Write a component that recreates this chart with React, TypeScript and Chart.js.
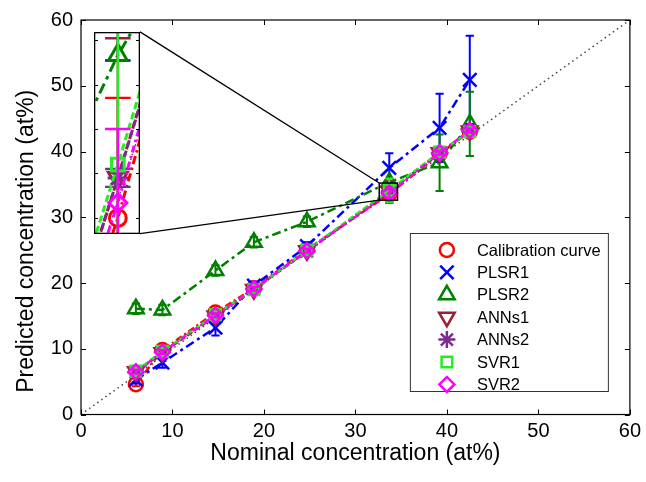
import React, { useEffect, useRef } from "react";
import { Chart, registerables } from "chart.js";
import { drawPoint } from "chart.js/helpers";
Chart.register(...registerables);

// ---------- data ----------
const nominal = [6.0, 8.9, 14.7, 18.9, 24.7, 33.7, 39.2, 42.5];
const calibration = [4.6, 9.8, 15.5, 19.2, 25.1, 33.5, 39.7, 43.0];
const calibrationErr = [0.3, 0.3, 0.3, 0.3, 0.3, 1.35, 0.3, 0.3];
const plsr1 = [5.3, 7.9, 13.2, 19.6, 25.6, 37.5, 43.6, 50.9];
const plsr1Err = [0.6, 0.8, 1.2, 0.6, 0.6, 2.23, 5.2, 6.7];
const plsr2 = [16.1, 15.9, 21.9, 26.2, 29.3, 35.33, 38.3, 44.2];
const plsr2Err = [0.8, 0.8, 0.8, 0.8, 0.8, 0, 4.3, 4.9];
const anns1 = [6.5, 9.4, 15.0, 19.0, 24.9, 33.95, 39.8, 43.1];
const anns1Err = [0.3, 0.3, 0.3, 0.3, 0.3, 1.57, 0.3, 0.3];
const anns2 = [6.4, 9.5, 15.1, 19.1, 24.8, 33.95, 39.7, 43.2];
const anns2Err = [0.3, 0.3, 0.3, 0.3, 0.3, 0.1, 0.3, 0.3];
const svr1 = [6.6, 9.6, 15.2, 19.0, 25.0, 34.1, 39.9, 43.0];
const svr1Err = [0.5, 0.5, 0.5, 0.5, 0.5, 1.8, 0.5, 0.5];
const svr2 = [6.5, 9.5, 15.1, 19.1, 24.9, 33.67, 39.8, 43.2];
const svr2Err = [0.3, 0.3, 0.3, 0.3, 0.3, 0.83, 0.3, 0.3];

const seriesNames = ["Calibration curve", "PLSR1", "PLSR2", "ANNs1", "ANNs2", "SVR1", "SVR2"];
const seriesValues = [calibration, plsr1, plsr2, anns1, anns2, svr1, svr2];
const seriesErrors = [calibrationErr, plsr1Err, plsr2Err, anns1Err, anns2Err, svr1Err, svr2Err];

const axisRange = [0, 60];
const tickStep = 10;
const identityLine = [0, 60];
const errorCapHalf = 0.45; // data units of x
const zoomBox = [32.6, 34.6, 32.6, 35.2]; // x0, x1, y0, y1 (data)
const insetXRange = [32.86, 34.48];
const insetYRange = [33.32, 35.59];
const insetPlace = [1.45, 6.45, 27.5, 58.2]; // x0, x1, y0, y1 (main data coords)
const insetTickStep = 0.5;

const xTitle = "Nominal concentration (at%)";
const yTitle = "Predicted concentration (at%)";

// ---------- styles ----------
const styles = [
  { color: "#ff0000", pointStyle: "circle", radius: 7, rotation: 0, dash: [7, 3, 2, 3] },
  { color: "#0000ff", pointStyle: "crossRot", radius: 9.5, rotation: 0, dash: [9, 4, 3, 4] },
  { color: "#008000", pointStyle: "triangle", radius: 9, rotation: 0, dash: [9, 4, 3, 4] },
  { color: "#a11d33", pointStyle: "triangle", radius: 9, rotation: 180, dash: [6, 3] },
  { color: "#7b2c8f", pointStyle: "star", radius: 8.5, rotation: 0, dash: [6, 3] },
  { color: "#22ee22", pointStyle: "rect", radius: 7.5, rotation: 0, dash: [6, 3] },
  { color: "#ff00ff", pointStyle: "rectRot", radius: 7.5, rotation: 0, dash: [6, 3, 2, 3] },
];

const FONT = "'Liberation Sans', Arial, Helvetica, sans-serif";
const W = 646;
const H = 482;

function makeDatasets(k: number): any[] {
  const ds: any[] = seriesNames.map((name, s) => ({
    label: name,
    data: nominal.map((x, i) => ({ x, y: seriesValues[s][i] })),
    errors: seriesErrors[s],
    errWidth: 2 * k,
    borderColor: styles[s].color,
    backgroundColor: "rgba(0,0,0,0)",
    borderWidth: 2.5 * k,
    borderDash: styles[s].dash.map((d) => d * k),
    pointStyle: styles[s].pointStyle,
    pointRadius: styles[s].radius * k,
    pointRotation: styles[s].rotation,
    pointBorderColor: styles[s].color,
    pointBackgroundColor: "rgba(0,0,0,0)",
    pointBorderWidth: 2.5 * k,
    tension: 0,
    order: seriesNames.length - s,
  }));
  ds.push({
    label: "",
    isRef: true,
    data: [
      { x: identityLine[0], y: identityLine[0] },
      { x: identityLine[1], y: identityLine[1] },
    ],
    borderColor: "#444",
    borderWidth: 1.5,
    borderDash: [1.5, 3.5],
    pointRadius: 0,
    order: 100,
  });
  return ds;
}

const errorBarPlugin = {
  id: "errorBars",
  beforeDatasetDraw(chart: any, args: any) {
    const ds = chart.data.datasets[args.index];
    if (!ds.errors) return;
    const xs = chart.scales.x;
    const ys = chart.scales.y;
    const ctx = chart.ctx;
    const a = chart.chartArea;
    ctx.save();
    ctx.beginPath();
    ctx.rect(a.left, a.top, a.right - a.left, a.bottom - a.top);
    ctx.clip();
    ctx.strokeStyle = ds.borderColor;
    ctx.lineWidth = ds.errWidth;
    ctx.setLineDash([]);
    args.meta.data.forEach((pt: any, i: number) => {
      const e = ds.errors[i];
      if (!e) return;
      const v = ds.data[i].y;
      const xv = ds.data[i].x;
      const t = ys.getPixelForValue(v + e);
      const b = ys.getPixelForValue(v - e);
      const x = pt.x;
      const cl = xs.getPixelForValue(xv - errorCapHalf);
      const cr = xs.getPixelForValue(xv + errorCapHalf);
      ctx.beginPath();
      ctx.moveTo(x, t);
      ctx.lineTo(x, b);
      ctx.moveTo(cl, t);
      ctx.lineTo(cr, t);
      ctx.moveTo(cl, b);
      ctx.lineTo(cr, b);
      ctx.stroke();
    });
    ctx.restore();
  },
};

const mainDecorPlugin = {
  id: "mainDecor",
  afterDatasetsDraw(chart: any) {
    const ctx = chart.ctx;
    const a = chart.chartArea;
    const xs = chart.scales.x;
    const ys = chart.scales.y;
    ctx.save();
    ctx.setLineDash([]);
    // frame
    ctx.strokeStyle = "#000";
    ctx.lineWidth = 1.2;
    ctx.strokeRect(a.left, a.top, a.right - a.left, a.bottom - a.top);
    // inward ticks
    const tl = 5;
    ctx.beginPath();
    xs.ticks.forEach((t: any) => {
      const px = Math.round(xs.getPixelForValue(t.value)) + 0.5;
      ctx.moveTo(px, a.bottom);
      ctx.lineTo(px, a.bottom - tl);
      ctx.moveTo(px, a.top);
      ctx.lineTo(px, a.top + tl);
    });
    ys.ticks.forEach((t: any) => {
      const py = Math.round(ys.getPixelForValue(t.value)) + 0.5;
      ctx.moveTo(a.left, py);
      ctx.lineTo(a.left + tl, py);
      ctx.moveTo(a.right, py);
      ctx.lineTo(a.right - tl, py);
    });
    ctx.lineWidth = 1;
    ctx.stroke();

    // y title (drawn manually, slightly below centre as in the reference)
    ctx.save();
    ctx.translate(27, (a.top + a.bottom) / 2 + 24);
    ctx.rotate(-Math.PI / 2);
    ctx.font = `23px ${FONT}`;
    ctx.fillStyle = "#000";
    ctx.textAlign = "center";
    ctx.textBaseline = "middle";
    ctx.fillText(yTitle, 0, 0);
    ctx.restore();

    // zoom box
    const bx0 = xs.getPixelForValue(zoomBox[0]);
    const bx1 = xs.getPixelForValue(zoomBox[1]);
    const by0 = ys.getPixelForValue(zoomBox[2]);
    const by1 = ys.getPixelForValue(zoomBox[3]);
    ctx.lineWidth = 1.5;
    ctx.strokeStyle = "#000";
    ctx.strokeRect(bx0, by1, bx1 - bx0, by0 - by1);
    // connectors
    const ix1 = xs.getPixelForValue(insetPlace[1]);
    const iy0 = ys.getPixelForValue(insetPlace[2]);
    const iy1 = ys.getPixelForValue(insetPlace[3]);
    ctx.beginPath();
    ctx.moveTo(ix1, iy1);
    ctx.lineTo(bx0, by1);
    ctx.moveTo(ix1, iy0);
    ctx.lineTo(bx0, by0);
    ctx.lineWidth = 1.3;
    ctx.stroke();

    // legend
    const lw = 198;
    const lh = 158;
    const lx = a.right - 22 - lw;
    const ly = a.bottom - 23.5 - lh;
    ctx.fillStyle = "#fff";
    ctx.fillRect(lx, ly, lw, lh);
    ctx.strokeStyle = "#333";
    ctx.lineWidth = 1;
    ctx.strokeRect(lx + 0.5, ly + 0.5, lw, lh);
    const items = chart.data.datasets.filter((d: any) => !d.isRef);
    ctx.font = `16.5px ${FONT}`;
    ctx.textBaseline = "middle";
    ctx.textAlign = "left";
    items.forEach((d: any, i: number) => {
      const cy = ly + 17 + i * 22.4;
      ctx.save();
      ctx.strokeStyle = d.pointBorderColor;
      ctx.fillStyle = "rgba(0,0,0,0)";
      ctx.lineWidth = 2.5;
      drawPoint(ctx, { pointStyle: d.pointStyle, rotation: d.pointRotation, radius: d.pointRadius, borderWidth: 2.5 } as any, lx + 37, cy);
      ctx.restore();
      ctx.fillStyle = "#000";
      ctx.fillText(d.label, lx + 67, cy + 1);
    });
    ctx.restore();
  },
};

const insetDecorPlugin = {
  id: "insetDecor",
  afterDraw(chart: any) {
    const ctx = chart.ctx;
    const a = chart.chartArea;
    const ys = chart.scales.y;
    ctx.save();
    ctx.setLineDash([]);
    ctx.strokeStyle = "#000";
    ctx.lineWidth = 1.3;
    ctx.strokeRect(a.left + 0.65, a.top + 0.65, a.right - a.left - 1.3, a.bottom - a.top - 1.3);
    ctx.beginPath();
    const start = Math.ceil(insetYRange[0] / insetTickStep) * insetTickStep;
    for (let v = start; v < insetYRange[1]; v += insetTickStep) {
      const py = Math.round(ys.getPixelForValue(v)) + 0.5;
      ctx.moveTo(a.left, py);
      ctx.lineTo(a.left + 4, py);
      ctx.moveTo(a.right, py);
      ctx.lineTo(a.right - 4, py);
    }
    ctx.lineWidth = 1;
    ctx.stroke();
    ctx.restore();
  },
};

export default function App() {
  const mainRef = useRef<HTMLCanvasElement>(null);
  const insetRef = useRef<HTMLCanvasElement>(null);
  const insetBoxRef = useRef<HTMLDivElement>(null);

  useEffect(() => {
    document.body.style.margin = "0";
    const main = new Chart(mainRef.current!, {
      type: "line",
      data: { datasets: makeDatasets(1) },
      options: {
        animation: false,
        responsive: false,
        devicePixelRatio: 1,
        layout: { autoPadding: false, padding: { top: 18, right: 15, left: 0, bottom: 0 } },
        plugins: { legend: { display: false }, tooltip: { enabled: false } },
        scales: {
          x: {
            type: "linear",
            min: axisRange[0],
            max: axisRange[1],
            ticks: { stepSize: tickStep, color: "#000", font: { family: FONT, size: 20 }, padding: 5, maxRotation: 0 },
            grid: { display: false, drawTicks: false },
            border: { display: false },
            title: { display: true, text: xTitle, color: "#000", font: { family: FONT, size: 23 }, padding: { top: 0, bottom: 15 } },
            afterFit: (s: any) => {
              s.height = 67.5;
            },
          },
          y: {
            type: "linear",
            min: axisRange[0],
            max: axisRange[1],
            ticks: { stepSize: tickStep, color: "#000", font: { family: FONT, size: 20 }, padding: 8 },
            grid: { display: false, drawTicks: false },
            border: { display: false },
            title: { display: false },
            afterFit: (s: any) => {
              s.width = 81;
            },
          },
        },
      } as any,
      plugins: [errorBarPlugin, mainDecorPlugin],
    });

    const xs: any = main.scales.x;
    const ys: any = main.scales.y;
    const left = Math.round(xs.getPixelForValue(insetPlace[0]));
    const right = Math.round(xs.getPixelForValue(insetPlace[1]));
    const top = Math.round(ys.getPixelForValue(insetPlace[3]));
    const bottom = Math.round(ys.getPixelForValue(insetPlace[2]));
    const box = insetBoxRef.current!;
    box.style.left = left + "px";
    box.style.top = top + "px";
    box.style.width = right - left + "px";
    box.style.height = bottom - top + "px";
    const ic = insetRef.current!;
    ic.width = right - left;
    ic.height = bottom - top;
    ic.style.width = right - left + "px";
    ic.style.height = bottom - top + "px";

    const inset = new Chart(ic, {
      type: "line",
      data: { datasets: makeDatasets(1.2) },
      options: {
        animation: false,
        responsive: false,
        devicePixelRatio: 1,
        layout: { autoPadding: false, padding: 0 },
        plugins: { legend: { display: false }, tooltip: { enabled: false } },
        scales: {
          x: { type: "linear", min: insetXRange[0], max: insetXRange[1], display: false },
          y: { type: "linear", min: insetYRange[0], max: insetYRange[1], display: false },
        },
      } as any,
      plugins: [errorBarPlugin, insetDecorPlugin],
    });

    return () => {
      inset.destroy();
      main.destroy();
    };
  }, []);

  return (
    <div style={{ position: "relative", width: W, height: H, background: "#fff" }}>
      <canvas ref={mainRef} width={W} height={H} style={{ width: W, height: H, display: "block" }} />
      <div ref={insetBoxRef} style={{ position: "absolute", background: "#fff" }}>
        <canvas ref={insetRef} style={{ display: "block" }} />
      </div>
    </div>
  );
}
